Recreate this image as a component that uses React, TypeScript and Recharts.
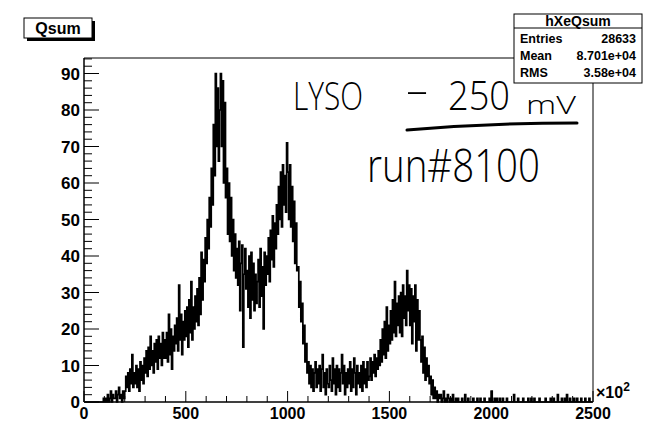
import React from 'react';
import { LineChart, Line, XAxis, YAxis, ReferenceArea } from 'recharts';

// Qsum histogram, bin width 5 (x axis in units of 10^2)
const BIN_WIDTH = 5;

const leadIn = [0, 0, 0, 0, 0, 0, 0, 0, 0, 0, 0, 0, 0, 0, 0, 0, 0, 0, 0, 1];

const risingEdge = [
  0, 1, 0, 2, 0, 1, 3, 0, 2, 1,
  1, 3, 0, 2, 4, 1, 2, 0, 3, 1,
  3, 7, 4, 8, 3, 9, 5, 13, 4, 8,
  5, 10, 4, 9, 3, 11, 6, 10, 5, 12,
  8, 14, 7, 15, 9, 18, 10, 14, 8, 16,
  11, 17, 9, 18, 12, 16, 10, 19, 12, 17,
  12, 19, 11, 24, 13, 20, 9, 18, 14, 21,
  16, 23, 14, 32, 17, 24, 13, 22, 17, 25,
  18, 26, 15, 28, 19, 33, 17, 26, 20, 29,
  22, 31, 21, 34, 24, 41, 28, 39, 33, 45,
];

const mainPeak = [
  38, 50, 42, 56, 48, 64, 54, 76, 62, 90,
  70, 86, 66, 80, 90, 70, 88, 60, 82, 56,
  64, 46, 60, 44, 56, 40, 50, 36, 46, 34,
];

const valley = [
  42, 32, 44, 25, 38, 43, 15, 35, 42, 31,
  36, 26, 40, 23, 41, 28, 38, 25, 35, 27,
  33, 39, 26, 42, 29, 37, 20, 41, 32, 40,
  35, 45, 33, 47, 39, 51, 37, 49, 42, 54,
];

const secondPeak = [
  46, 59, 50, 63, 48, 65, 54, 62, 52, 71,
  63, 50, 65, 48, 59, 44, 55, 38, 49, 36,
  37, 26, 33, 22, 27, 16, 21, 11, 16, 8,
  11, 5, 10, 4, 9, 3, 8, 11, 4, 9,
];

const plateau = [
  5, 10, 3, 9, 13, 4, 8, 2, 9, 5,
  4, 10, 6, 3, 12, 5, 9, 2, 10, 4,
  9, 3, 8, 13, 5, 10, 2, 8, 4, 9,
  5, 11, 3, 9, 4, 12, 8, 2, 10, 5,
  8, 4, 10, 3, 11, 5, 9, 4, 11, 6,
  7, 12, 6, 11, 8, 13, 7, 12, 9, 14,
];

const thirdPeak = [
  10, 17, 11, 20, 13, 22, 12, 26, 14, 21,
  16, 25, 17, 28, 19, 33, 18, 27, 21, 29,
  19, 30, 18, 32, 23, 29, 21, 36, 25, 32,
  21, 31, 16, 29, 22, 32, 14, 28, 17, 25,
  17, 11, 18, 8, 15, 6, 12, 7, 10, 5,
  7, 2, 6, 1, 4, 1, 3, 0, 2, 1,
];

const tail = [
  2, 0, 1, 3, 0, 1, 0, 2, 1, 0,
  1, 0, 2, 0, 0, 1, 0, 1, 0, 0,
  0, 1, 0, 0, 2, 0, 0, 1, 0, 0,
  0, 0, 1, 0, 0, 0, 1, 0, 0, 1,
  0, 0, 0, 1, 0, 0, 0, 0, 1, 0,
  3, 0, 0, 1, 0, 1, 0, 0, 1, 0,
  0, 1, 0, 0, 0, 1, 0, 0, 0, 0,
  0, 0, 2, 0, 0, 0, 1, 0, 0, 0,
  0, 1, 0, 0, 0, 0, 1, 0, 0, 1,
  0, 0, 1, 0, 0, 0, 0, 1, 0, 0,
  0, 0, 0, 1, 0, 0, 0, 0, 1, 0,
  0, 1, 0, 0, 0, 2, 0, 0, 0, 1,
  0, 0, 1, 0, 2, 0, 0, 1, 0, 0,
  0, 1, 0, 0, 1, 0, 0, 0, 1, 0,
  0, 0, 1, 0, 0, 0, 1, 0, 0, 0,
];

const counts = [
  ...leadIn, ...risingEdge, ...mainPeak, ...valley,
  ...secondPeak, ...plateau, ...thirdPeak, ...tail,
];

const histogram = counts.map((n, i) => ({ q: i * BIN_WIDTH + BIN_WIDTH / 2, n }));

const X_MAX = 2500;
const Y_MAX = 94.25;
const xTicks = Array.from({ length: 26 }, (_, i) => i * 100);
const yTicks = Array.from({ length: 48 }, (_, i) => i * 2);

const histTitle = 'Qsum';
const statsTitle = 'hXeQsum';
const statsRows: [string, string][] = [
  ['Entries', '28633'],
  ['Mean', '8.701e+04'],
  ['RMS', '3.58e+04'],
];
const noteLines = ['LYSO', '-', '250', 'mV', 'run#8100'];

const AXIS_FONT = '"Liberation Sans", Arial, Helvetica, sans-serif';
const NOTE_FONT = '"Open Sans", "Liberation Sans", sans-serif';

const XTick = (props: any) => {
  const { x, y, payload } = props;
  const major = payload.value % 500 === 0;
  return (
    <g>
      <line x1={x} x2={x} y1={y} y2={y - (major ? 11 : 6)} stroke="#000" strokeWidth={1} />
      {major && (
        <text x={x} y={y + 17} textAnchor="middle" fontFamily={AXIS_FONT} fontWeight="bold" fontSize={16} fill="#000">
          {payload.value}
        </text>
      )}
    </g>
  );
};

const YTick = (props: any) => {
  const { x, y, payload } = props;
  const major = payload.value % 10 === 0;
  return (
    <g>
      <line x1={x} x2={x + (major ? 15 : 8)} y1={y} y2={y} stroke="#000" strokeWidth={1} />
      {major && (
        <text x={x - 4} y={y + 6} textAnchor="end" fontFamily={AXIS_FONT} fontWeight="bold" fontSize={17} fill="#000">
          {payload.value}
        </text>
      )}
    </g>
  );
};

export default function App() {
  return (
    <div style={{ position: 'absolute', left: 0, top: 0, width: 652, height: 438, background: '#fff' }}>
      <LineChart
        width={652}
        height={438}
        data={histogram}
        margin={{ top: 58, right: 59, bottom: 0, left: 0 }}
      >
        <XAxis
          dataKey="q"
          type="number"
          domain={[0, X_MAX]}
          ticks={xTicks}
          interval={0}
          height={36}
          tickSize={0}
          tickMargin={0}
          tickLine={false}
          axisLine={{ stroke: '#000' }}
          tick={<XTick />}
        />
        <YAxis
          dataKey="n"
          type="number"
          domain={[0, Y_MAX]}
          ticks={yTicks}
          interval={0}
          width={84}
          tickSize={0}
          tickMargin={0}
          tickLine={false}
          axisLine={{ stroke: '#000' }}
          tick={<YTick />}
        />
        <ReferenceArea x1={0} x2={X_MAX} y1={0} y2={Y_MAX} fill="none" stroke="#000" strokeWidth={1} fillOpacity={0} />
        <Line
          dataKey="n"
          type="step"
          stroke="#000"
          strokeWidth={1.7}
          dot={false}
          activeDot={false}
          isAnimationActive={false}
        />
      </LineChart>

      <svg
        width={652}
        height={438}
        style={{ position: 'absolute', left: 0, top: 0, pointerEvents: 'none' }}
      >
        {/* histogram title box with drop shadow */}
        <rect x={27} y={21} width={68} height={20} fill="#000" />
        <rect x={24} y={18} width={68} height={20} fill="#fff" stroke="#000" strokeWidth={1} />
        <text x={58} y={34} textAnchor="middle" fontFamily={AXIS_FONT} fontWeight="bold" fontSize={16} fill="#000">
          {histTitle}
        </text>

        {/* statistics box */}
        <rect x={514} y={14} width={128} height={69} fill="#fff" stroke="#000" strokeWidth={1} />
        <line x1={514} x2={642} y1={28} y2={28} stroke="#000" strokeWidth={1} />
        <text x={578} y={26} textAnchor="middle" fontFamily={AXIS_FONT} fontWeight="bold" fontSize={14} fill="#000">
          {statsTitle}
        </text>
        {statsRows.map(([label, value], i) => (
          <g key={label}>
            <text x={520} y={43 + i * 17} fontFamily={AXIS_FONT} fontWeight="bold" fontSize={12.5} fill="#000">
              {label}
            </text>
            <text x={636} y={43 + i * 17} textAnchor="end" fontFamily={AXIS_FONT} fontWeight="bold" fontSize={12.5} fill="#000">
              {value}
            </text>
          </g>
        ))}

        {/* axis exponent */}
        <text x={596} y={398} fontFamily={AXIS_FONT} fontWeight="bold" fontSize={16} fill="#000">
          ×10
          <tspan dy={-7} fontSize={12}>2</tspan>
        </text>

        {/* handwritten run notes */}
        <g fontFamily={NOTE_FONT} fontWeight={300} fill="#000">
          <text x={293} y={110} fontSize={38} textLength={70} lengthAdjust="spacingAndGlyphs">{noteLines[0]}</text>
          <text x={405} y={104} fontSize={40} textLength={24} lengthAdjust="spacingAndGlyphs">{noteLines[1]}</text>
          <text x={448} y={110} fontSize={40} textLength={62} lengthAdjust="spacingAndGlyphs">{noteLines[2]}</text>
          <text x={526} y={114} fontSize={26} textLength={50} lengthAdjust="spacingAndGlyphs">{noteLines[3]}</text>
          <text x={367} y={182} fontSize={46} textLength={173} lengthAdjust="spacingAndGlyphs">{noteLines[4]}</text>
        </g>
        <path d="M407 130 Q 490 123 577 123" fill="none" stroke="#000" strokeWidth={3} strokeLinecap="round" />
      </svg>
    </div>
  );
}
